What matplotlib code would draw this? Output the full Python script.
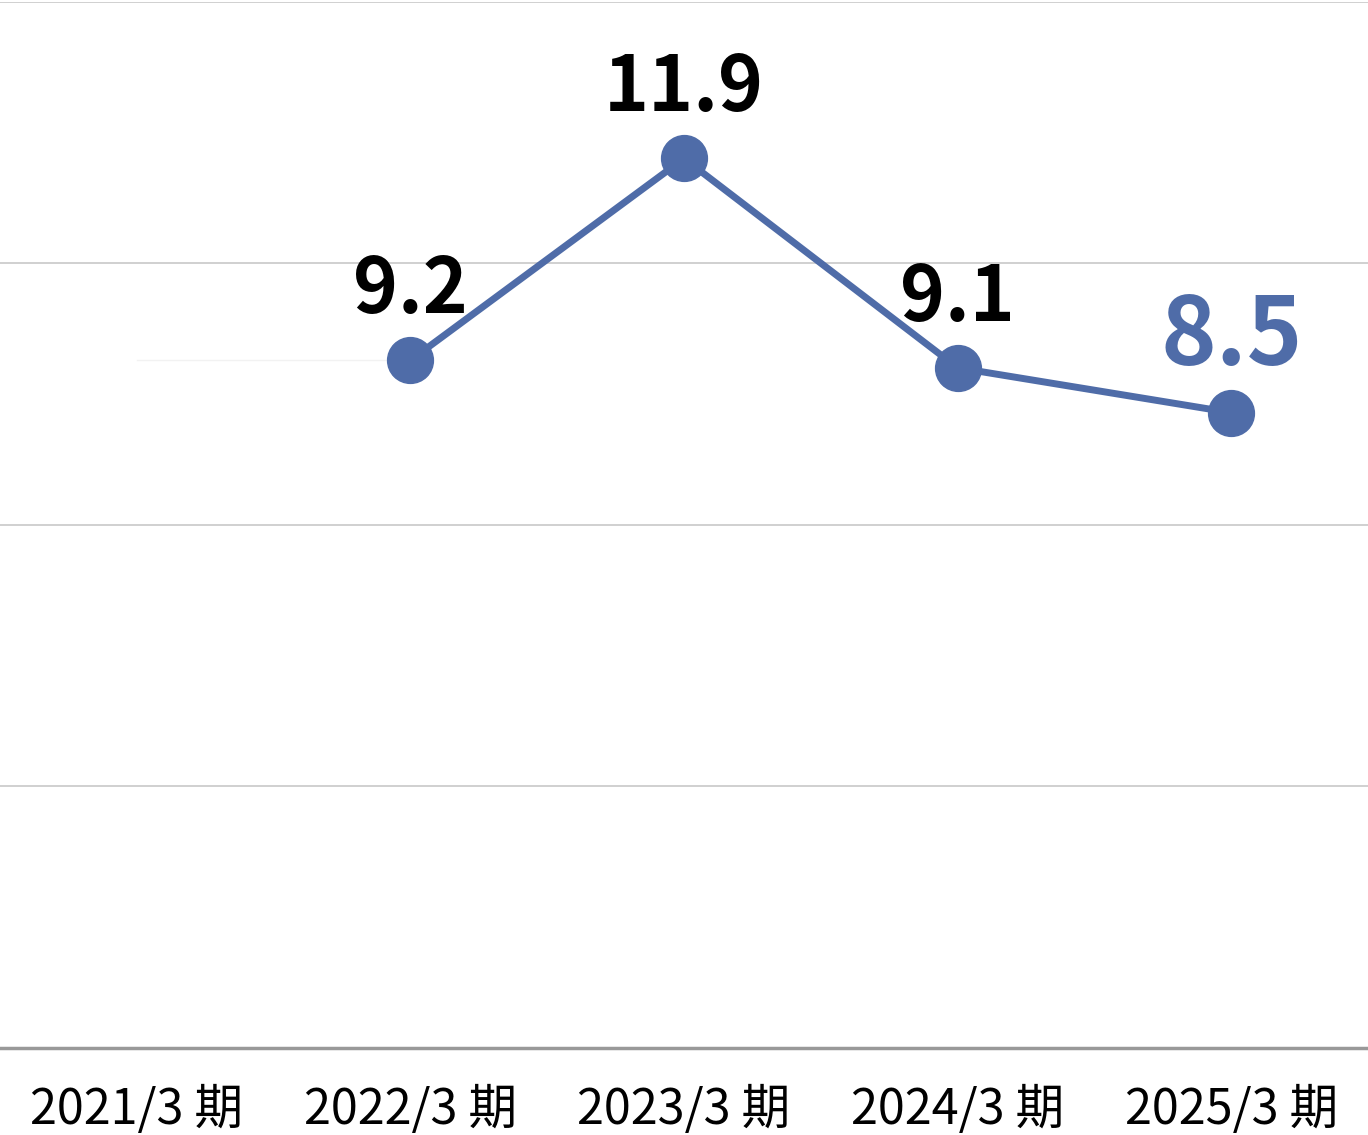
import matplotlib.pyplot as plt

plt.rcParams['font.family'] = ['Noto Sans CJK JP', 'DejaVu Sans']

categories = ['2021/3 期', '2022/3 期', '2023/3 期', '2024/3 期', '2025/3 期']
values = [9.2, 11.9, 9.1, 8.5]
value_idx = [1, 2, 3, 4]
label_colors = ['black', 'black', 'black', '#4f6ca8']
label_sizes = [55, 55, 55, 68]
# faint stub running from 2021 to 2022
stub_idx = [0, 1]
stub_vals = [9.2, 9.2]

line_color = '#4f6ca8'

fig = plt.figure(figsize=(13.68, 11.35), dpi=100)
ax = fig.add_axes([0, 87 / 1135, 1, 1 - 87 / 1135 - 1.5 / 1135])

ax.set_xlim(-0.5, 4.5)
ax.set_ylim(0, 14)
ax.set_yticks([0, 3.5, 7, 10.5, 14])
ax.grid(axis='y', color='#c8c8c8', linewidth=1.2)
ax.set_axisbelow(True)
for s in ['top', 'left', 'right']:
    ax.spines[s].set_visible(False)
ax.spines['bottom'].set_color('#999999')
ax.spines['bottom'].set_linewidth(2.5)
ax.tick_params(axis='y', left=False, labelleft=False)
ax.set_xticks(range(len(categories)))
ax.set_xticklabels(categories, fontsize=35)
ax.tick_params(axis='x', length=0, pad=27)

ax.plot(stub_idx, stub_vals, color='#f2f2f2', linewidth=1, zorder=1)
ax.plot(value_idx, values, color=line_color, linewidth=5, marker='o',
        markersize=33, zorder=3)

for i, v, c, fs in zip(value_idx, values, label_colors, label_sizes):
    ax.annotate(f'{v}', (i, v), xytext=(0, 34), textcoords='offset points',
                ha='center', va='baseline', fontsize=fs, fontweight='bold',
                color=c)

fig.savefig('out.png', dpi=100)
